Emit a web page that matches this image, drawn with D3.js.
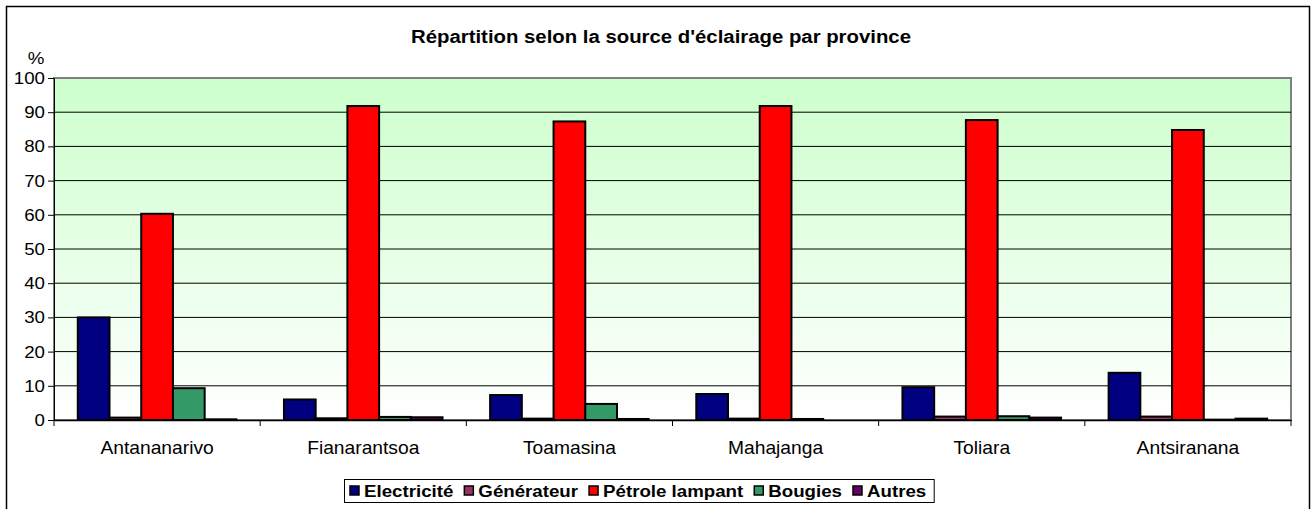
<!DOCTYPE html>
<html lang="fr">
<head>
    <meta charset="utf8">
    <title>Répartition selon la source d'éclairage par province</title>
    <script src="https://d3js.org/d3.v7.min.js"></script>
    <style>
        body { margin: 0; background: #fff; }
        svg { display: block; font-family: "Liberation Sans", Arial, sans-serif; }
    </style>
</head>
<body>
    <svg id="chart" width="1316" height="509"></svg>
    <script>
        const provinces = ["Antananarivo", "Fianarantsoa", "Toamasina", "Mahajanga", "Toliara", "Antsiranana"];
        const sources = ["Electricité", "Générateur", "Pétrole lampant", "Bougies", "Autres"];
        const colors = ["#000080", "#993366", "#ff0000", "#339966", "#660066"];
        const electricite = [30.0, 6.0, 7.3, 7.6, 9.6, 13.8];
        const generateur = [0.7, 0.5, 0.4, 0.4, 1.0, 1.0];
        const petrole = [60.3, 91.8, 87.3, 91.8, 87.7, 84.8];
        const bougies = [9.3, 0.9, 4.7, 0.3, 1.1, 0.1];
        const autres = [0.2, 0.8, 0.3, 0.0, 0.7, 0.4];
        const yTicks = [0, 10, 20, 30, 40, 50, 60, 70, 80, 90, 100];

        const series = [electricite, generateur, petrole, bougies, autres];
        const svg = d3.select("#chart");
        const sx = 1.1; // the picture is a bit wider than tall

        const plot = { left: 54, right: 1291, top: 78, bottom: 420 };

        const x = d3.scaleBand().domain(provinces).range([plot.left, plot.right]);
        const bw = x.bandwidth() / 6.5;
        const xs = d3.scaleBand().domain(sources).range([bw * 0.75, bw * 5.75]);
        const y = d3.scaleLinear().domain([0, 100]).range([plot.bottom, plot.top]);

        function label(g, txt, px, py, anchor, size, bold) {
            return g.append("text")
                .attr("transform", `translate(${px},${py}) scale(${sx},1)`)
                .attr("text-anchor", anchor)
                .attr("font-size", size)
                .attr("font-weight", bold ? "bold" : "normal")
                .attr("fill", "#000")
                .text(txt);
        }

        // outer frame
        svg.append("rect").attr("x", 6.5).attr("y", 6.5).attr("width", 1303).attr("height", 520)
            .attr("fill", "#fff").attr("stroke", "#000").attr("stroke-width", 1.5);

        // plot background
        const grad = svg.append("defs").append("linearGradient").attr("id", "bg")
            .attr("x1", 0).attr("y1", 0).attr("x2", 0).attr("y2", 1);
        grad.append("stop").attr("offset", "0%").attr("stop-color", "#ccffcc");
        grad.append("stop").attr("offset", "100%").attr("stop-color", "#ffffff");
        svg.append("rect").attr("x", plot.left).attr("y", plot.top)
            .attr("width", plot.right - plot.left).attr("height", plot.bottom - plot.top)
            .attr("fill", "url(#bg)").attr("stroke", "#808080").attr("stroke-width", 2);

        // gridlines
        svg.append("g").selectAll("line").data(yTicks.slice(1, -1)).join("line")
            .attr("x1", plot.left).attr("x2", plot.right)
            .attr("y1", d => y(d)).attr("y2", d => y(d))
            .attr("stroke", "#000").attr("stroke-width", 1);

        // bars
        const groups = svg.append("g").selectAll("g").data(provinces).join("g")
            .attr("transform", d => `translate(${x(d)},0)`);
        groups.selectAll("rect")
            .data((p, i) => sources.map((s, k) => ({ s, k, v: series[k][i] })))
            .join("rect")
            .attr("x", d => xs(d.s))
            .attr("width", xs.bandwidth())
            .attr("y", d => y(d.v))
            .attr("height", d => y(0) - y(d.v))
            .attr("fill", d => colors[d.k])
            .attr("stroke", "#000").attr("stroke-width", 2);

        // y axis
        const yAxis = svg.append("g").attr("transform", `translate(${plot.left},0)`)
            .call(d3.axisLeft(y).tickValues(yTicks).tickSize(6).tickSizeOuter(0).tickFormat(""));
        yAxis.selectAll("line").attr("stroke", "#000");
        yAxis.select(".domain").attr("stroke", "#000");
        yTicks.forEach(t => label(svg, t, plot.left - 9, y(t) + 6, "end", 17, false));

        // x axis
        const xAxis = svg.append("g").attr("transform", `translate(0,${plot.bottom})`)
            .call(d3.axisBottom(x).tickSize(0).tickSizeOuter(0).tickFormat(""));
        xAxis.select(".domain").attr("stroke", "#000").attr("stroke-width", 1.5);
        const bounds = provinces.map(p => x(p)).concat([plot.right]);
        svg.append("g").selectAll("line").data(bounds).join("line")
            .attr("x1", d => d).attr("x2", d => d)
            .attr("y1", plot.bottom).attr("y2", plot.bottom + 6)
            .attr("stroke", "#000");
        provinces.forEach(p => label(svg, p, x(p) + x.bandwidth() / 2, 454, "middle", 17.5, false));

        // title and unit
        label(svg, "Répartition selon la source d'éclairage par province", 661, 43, "middle", 18.5, true);
        label(svg, "%", 36, 64, "middle", 17, false);

        // legend
        const lg = svg.append("g");
        const box = lg.append("rect").attr("y", 479.5).attr("height", 23)
            .attr("fill", "#fff").attr("stroke", "#000").attr("stroke-width", 1);
        let lx = 350;
        sources.forEach((s, k) => {
            lg.append("rect").attr("x", lx).attr("y", 486).attr("width", 9).attr("height", 9)
                .attr("fill", colors[k]).attr("stroke", "#000").attr("stroke-width", 1.5);
            const t = label(lg, s, lx + 14, 497, "start", 17, true);
            lx += 14 + t.node().getComputedTextLength() * sx + 11;
        });
        box.attr("x", 344.5).attr("width", lx - 344.5 - 3);
    </script>
</body>
</html>
